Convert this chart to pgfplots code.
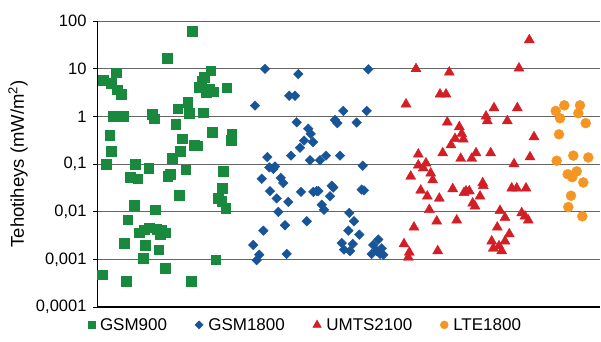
\documentclass[border=0pt]{standalone}
\usepackage{pgfplots}
\pgfplotsset{compat=1.18}
\usepackage{fontspec}
\setmainfont{Liberation Sans}
\definecolor{cgreen}{RGB}{24,137,61}
\definecolor{cblue}{RGB}{24,84,152}
\definecolor{cred}{RGB}{210,30,36}
\definecolor{corange}{RGB}{245,150,35}
\pgfplotsset{legmark/.style={legend image code/.code={\draw[##1,mark size=#1] plot coordinates {(0pt,0pt)};}}}
\begin{document}
\begin{tikzpicture}
\useasboundingbox (0pt,0pt) rectangle (601pt,341pt);
\begin{axis}[
  at={(97pt,34pt)}, anchor=south west,
  scale only axis, width=503pt, height=286pt,
  xmin=97, xmax=600, ymode=log, ymin=0.0001, ymax=100,
  axis lines=left, axis line style={-, black},
  x axis line style={line width=1.2pt},
  y axis line style={line width=0.8pt},
  xtick=\empty,
  ytick={0.0001,0.001,0.01,0.1,1,10,100},
  yticklabels={{0,0001},{0,001},{0,01},{0,1},1,10,100},
  tick align=outside, major tick length=4pt, tick style={black, line width=0.8pt},
  ymajorgrids, major grid style={black!60, line width=0.9pt},
  yminorticks=false,
  /pgf/number format/assume math mode=true,
  tick label style={font=\fontsize{16.5}{19}\selectfont},
  yticklabel style={xshift=-3pt},
  ylabel={Tehotiheys (mW/m\textsuperscript{2})},
  ylabel style={at={(axis description cs:-0.157,0.5)}, anchor=center, rotate=0, font=\fontsize{18.5}{21}\selectfont},
  clip=false,
  legend columns=4,
  legend style={at={(rel axis cs:0,0)}, anchor=north west, xshift=-9pt, yshift=-9pt,
    draw=none, fill=none, inner sep=0pt, font=\fontsize{17}{20}\selectfont,
    /tikz/every odd column/.append style={column sep=3pt},
    /tikz/every even column/.append style={column sep=26pt}},
]
\addplot[only marks, mark=square*, color=cgreen, mark size=4.8pt, legmark=3.4pt] table {
x y
103 5.7
111 4.9
116.3 8.2
117 3.6
121 2.9
113 1.0
118.7 1.0
123.7 1.0
152 1.1
154.3 0.9
109.7 0.40
111 0.187
106.3 0.1
135.3 0.1
148.7 0.082
130.3 0.053
137.7 0.049
134.3 0.0138
155.3 0.011
127.7 0.0068
139.3 0.0036
144 0.0042
149.3 0.0046
156.7 0.0043
161.7 0.0042
165 0.0036
160 0.0033
124.3 0.0022
145.3 0.0020
158.7 0.0016
143 0.00106
165.3 0.00066
102 0.00048
126.3 0.00035
167 16.5
192.3 62
187.7 2.0
177.7 1.45
189 1.16
203.3 1.2
175.7 0.69
212.3 0.47
231.7 0.42
231 0.32
182.3 0.34
194.3 0.25
197.7 0.24
180 0.183
172.3 0.133
170 0.061
167.7 0.056
185.7 0.076
223.3 0.07
179 0.022
222.3 0.031
218.3 0.019
221.7 0.0164
225.7 0.012
215.7 0.00098
191 0.00035
199.3 4.1
201.7 5.4
204 6.6
206 3.2
209.3 3.7
213.3 3.3
210.7 9.1
226.7 4.0
};
\addlegendentry{GSM900}
\addplot[only marks, mark=square*, mark options={rotate=45}, color=cblue, mark size=3.4pt, legmark=2.9pt] table {
x y
265 9.9
298.3 7.7
255 1.68
289.3 2.7
295 2.7
296.7 0.75
308.3 0.55
310.7 0.43
304 0.31
313 0.29
300 0.22
291 0.15
310 0.12
267.3 0.14
269.3 0.085
273.3 0.079
275 0.089
261.7 0.049
280.7 0.051
283.3 0.040
301 0.026
313.3 0.026
270 0.027
276.7 0.019
288.3 0.016
278.3 0.0099
306.7 0.0063
285 0.0052
263.3 0.0040
253.3 0.0020
259.3 0.00125
256.7 0.00096
286.7 0.0013
368.3 9.7
343.3 1.3
366.7 1.3
335 0.84
337.3 0.72
356.7 0.74
320 0.12
326 0.15
340 0.15
362.7 0.092
316.7 0.027
318.3 0.027
331.7 0.035
333.3 0.032
330 0.021
321.7 0.014
324 0.011
361.7 0.029
364 0.028
349.3 0.0094
354 0.0063
348.3 0.0040
359.3 0.0033
341.7 0.0022
344 0.0016
350 0.0015
352.7 0.0021
378.3 0.0026
373.3 0.0020
376.7 0.0015
381.7 0.0017
383.3 0.00125
371.7 0.0013
380 0.0013
};
\addlegendentry{GSM1800}
\addplot[only marks, mark=triangle*, color=cred, mark size=5.8pt, legmark=4.9pt] table {
x y
416 9.9
449.3 8.4
406 1.8
440 2.9
446 2.9
447.3 0.75
459.3 0.6
461.7 0.43
455 0.34
463.3 0.33
451 0.25
442.7 0.17
460.7 0.13
418.3 0.16
418.3 0.094
423.3 0.082
426 0.104
430.7 0.064
432.7 0.046
410.7 0.055
420.7 0.028
427.3 0.021
439.3 0.019
452.7 0.030
464 0.025
429.3 0.011
436.7 0.0063
456.7 0.0066
414 0.0047
404 0.0021
409.3 0.0014
408.3 0.0011
437.7 0.0015
529.3 40
519 10.2
494 1.5
517.3 1.5
486 1.0
487.3 0.8
507.3 0.8
534 0.37
471.7 0.13
476 0.17
490.7 0.17
530 0.14
514 0.10
466 0.027
469.3 0.027
482.7 0.040
483.3 0.035
480 0.021
472.7 0.015
475 0.013
511.7 0.031
516.7 0.031
526 0.031
500 0.0105
505 0.0075
521.7 0.0094
525 0.008
528.3 0.0066
497.3 0.0047
509.3 0.0034
491.7 0.0024
505 0.0024
493.3 0.0017
501.7 0.0015
499 0.0019
};
\addlegendentry{UMTS2100}
\addplot[only marks, mark=*, color=corange, mark size=5pt, legmark=4pt] table {
x y
555.7 1.3
564.3 1.7
560 0.91
580 1.7
578.3 1.16
585.7 0.72
559 0.42
556.7 0.117
573.3 0.15
588.3 0.137
567.7 0.061
572.3 0.053
576.7 0.070
583.3 0.041
571 0.0216
568.3 0.0125
582.3 0.008
};
\addlegendentry{LTE1800}
\end{axis}
\end{tikzpicture}
\end{document}
